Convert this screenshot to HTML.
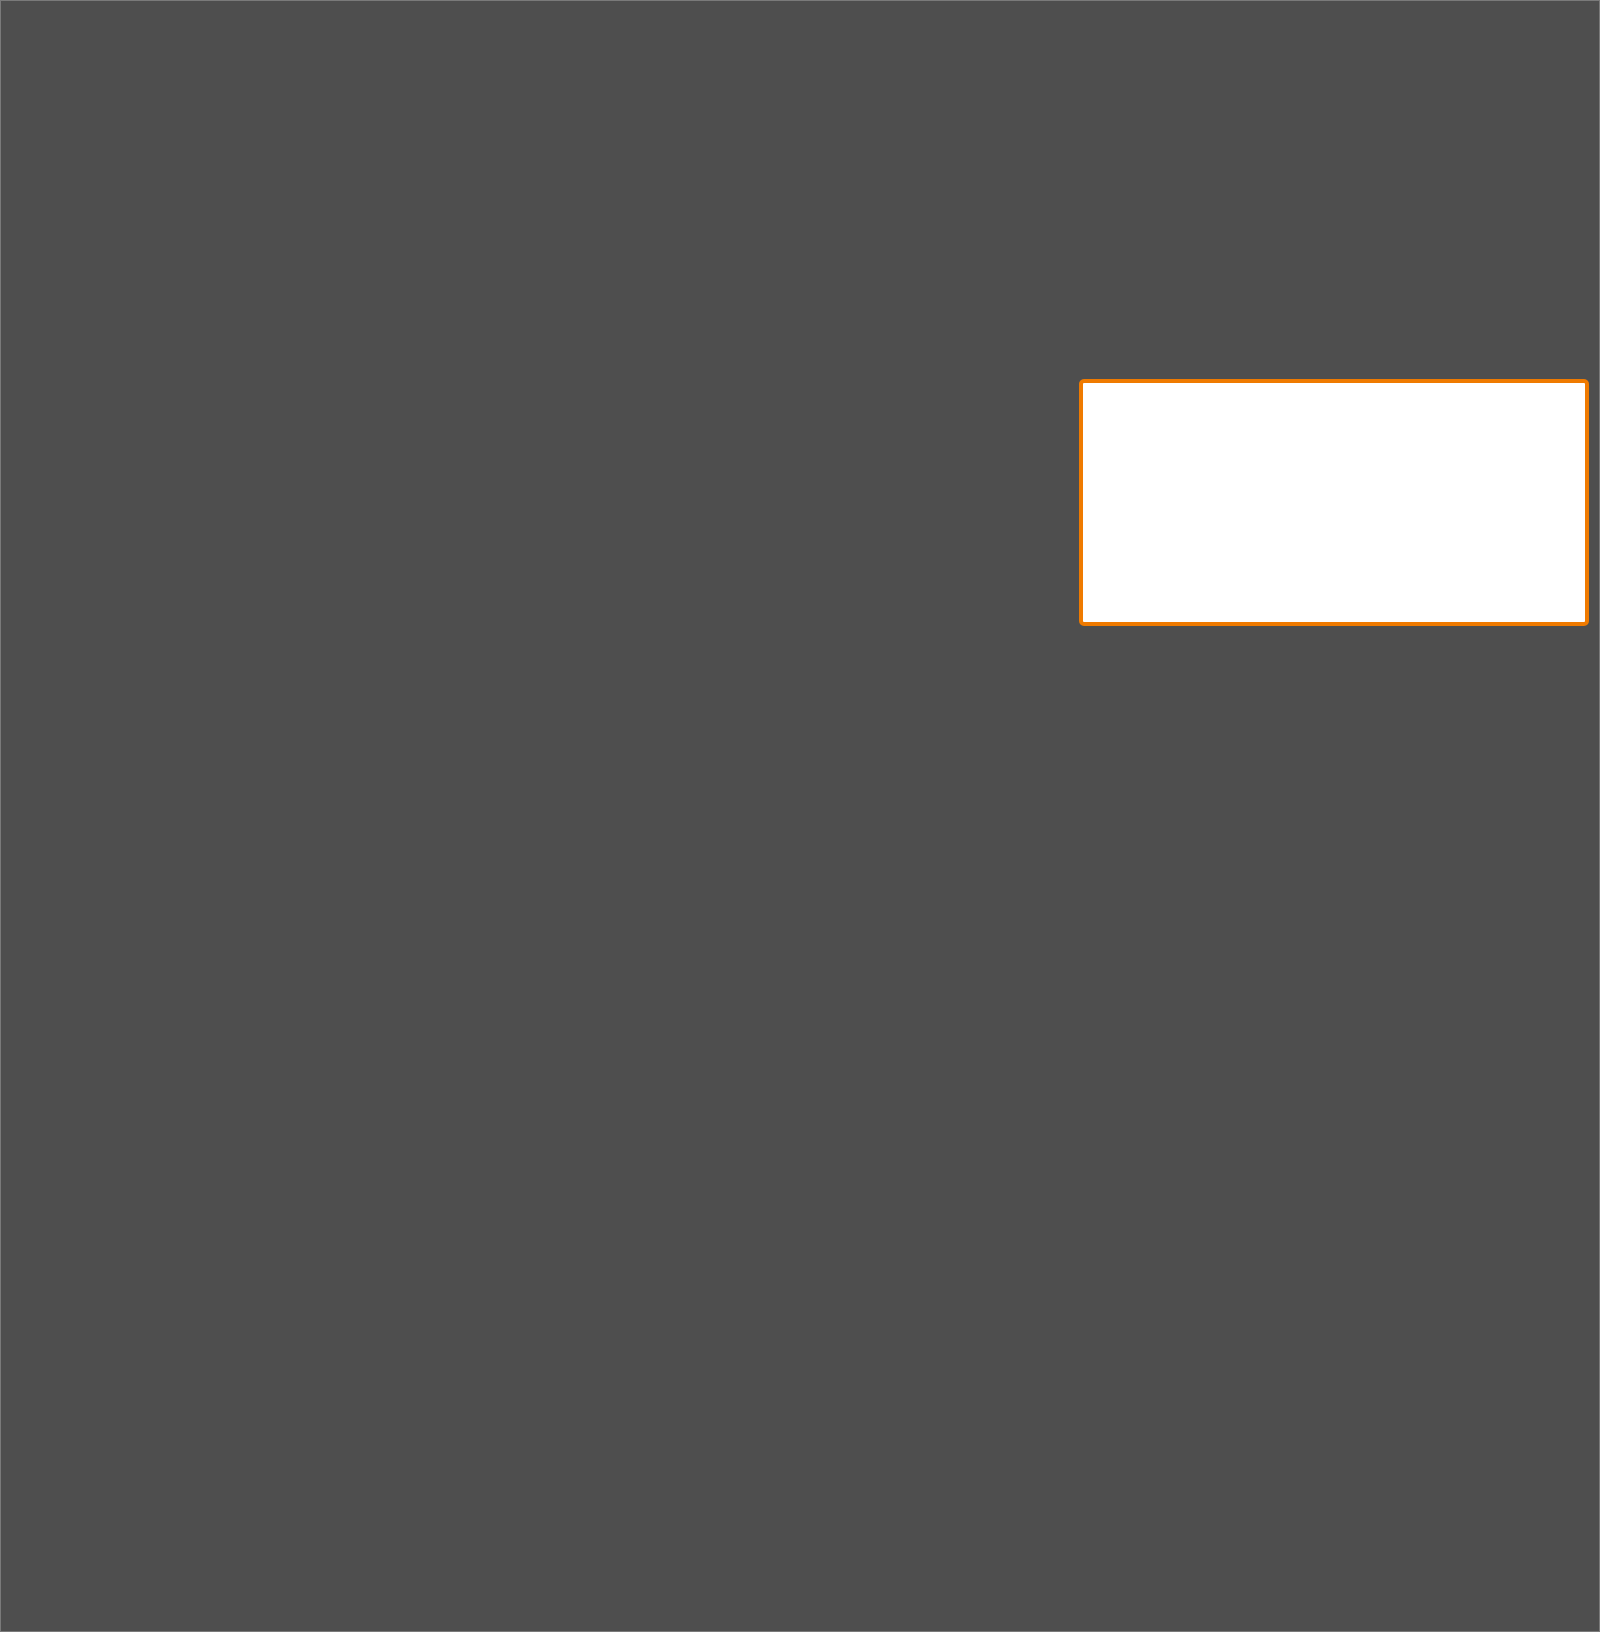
<!DOCTYPE html>
<html><head><meta charset="utf-8"><style>
html,body{margin:0;padding:0;}
body{width:1600px;height:1632px;background:#4e4e4e;position:relative;overflow:hidden;box-sizing:border-box;border:1px solid #7a7a7a;}
.box{position:absolute;left:1078px;top:378px;width:502px;height:239px;background:#fff;border:4px solid #ef7a00;border-radius:5px;}
</style></head><body><div class="box"></div></body></html>
